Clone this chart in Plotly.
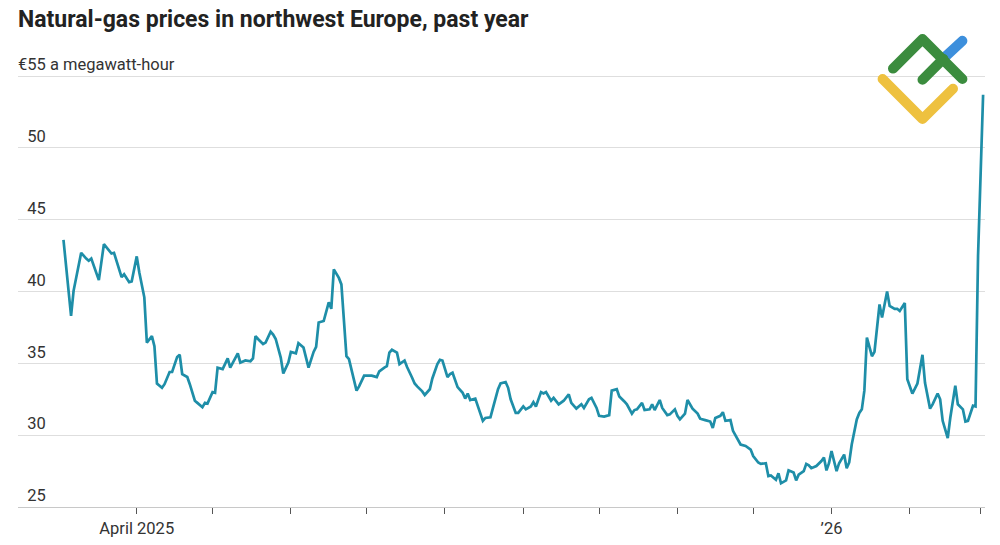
import base64
import plotly.graph_objects as go

# ---------------- data ----------------
dates = [
    "2025-03-03", "2025-03-06", "2025-03-07", "2025-03-10", "2025-03-12", "2025-03-13",
    "2025-03-14", "2025-03-16", "2025-03-17", "2025-03-19", "2025-03-21", "2025-03-22",
    "2025-03-23", "2025-03-25", "2025-03-26", "2025-03-27", "2025-03-29", "2025-03-30",
    "2025-04-01", "2025-04-02", "2025-04-04", "2025-04-05", "2025-04-07", "2025-04-08",
    "2025-04-09", "2025-04-11", "2025-04-12", "2025-04-14", "2025-04-15", "2025-04-17",
    "2025-04-18", "2025-04-19", "2025-04-21", "2025-04-22", "2025-04-24", "2025-04-25",
    "2025-04-27", "2025-04-28", "2025-04-29", "2025-05-01", "2025-05-02", "2025-05-03",
    "2025-05-05", "2025-05-07", "2025-05-08", "2025-05-11", "2025-05-12", "2025-05-14",
    "2025-05-16", "2025-05-17", "2025-05-18", "2025-05-19", "2025-05-21", "2025-05-22",
    "2025-05-24", "2025-05-25", "2025-05-26", "2025-05-28", "2025-05-29", "2025-05-31",
    "2025-06-01", "2025-06-03", "2025-06-04", "2025-06-06", "2025-06-07", "2025-06-08",
    "2025-06-10", "2025-06-11", "2025-06-12", "2025-06-14", "2025-06-16", "2025-06-17",
    "2025-06-18", "2025-06-20", "2025-06-21", "2025-06-23", "2025-06-24", "2025-06-26",
    "2025-06-27", "2025-06-28", "2025-06-30", "2025-07-02", "2025-07-03", "2025-07-05",
    "2025-07-06", "2025-07-08", "2025-07-09", "2025-07-10", "2025-07-11", "2025-07-13",
    "2025-07-14", "2025-07-16", "2025-07-17", "2025-07-19", "2025-07-20", "2025-07-21",
    "2025-07-23", "2025-07-24", "2025-07-26", "2025-07-27", "2025-07-29", "2025-07-30",
    "2025-07-31", "2025-08-02", "2025-08-03", "2025-08-04", "2025-08-06", "2025-08-08",
    "2025-08-09", "2025-08-10", "2025-08-11", "2025-08-13", "2025-08-14", "2025-08-16",
    "2025-08-17", "2025-08-19", "2025-08-20", "2025-08-22", "2025-08-23", "2025-08-25",
    "2025-08-26", "2025-08-27", "2025-08-29", "2025-08-30", "2025-09-01", "2025-09-02",
    "2025-09-04", "2025-09-05", "2025-09-06", "2025-09-08", "2025-09-09", "2025-09-10",
    "2025-09-12", "2025-09-13", "2025-09-15", "2025-09-17", "2025-09-19", "2025-09-20",
    "2025-09-22", "2025-09-24", "2025-09-25", "2025-09-27", "2025-09-28", "2025-09-30",
    "2025-10-01", "2025-10-03", "2025-10-05", "2025-10-06", "2025-10-08", "2025-10-09",
    "2025-10-11", "2025-10-12", "2025-10-14", "2025-10-15", "2025-10-16", "2025-10-18",
    "2025-10-19", "2025-10-21", "2025-10-22", "2025-10-23", "2025-10-25", "2025-10-26",
    "2025-10-28", "2025-10-29", "2025-10-31", "2025-11-01", "2025-11-02", "2025-11-04",
    "2025-11-05", "2025-11-07", "2025-11-09", "2025-11-10", "2025-11-12", "2025-11-14",
    "2025-11-15", "2025-11-16", "2025-11-18", "2025-11-19", "2025-11-20", "2025-11-22",
    "2025-11-23", "2025-11-25", "2025-11-26", "2025-11-28", "2025-11-30", "2025-12-01",
    "2025-12-03", "2025-12-04", "2025-12-06", "2025-12-07", "2025-12-08", "2025-12-10",
    "2025-12-11", "2025-12-12", "2025-12-14", "2025-12-15", "2025-12-17", "2025-12-18",
    "2025-12-19", "2025-12-21", "2025-12-22", "2025-12-23", "2025-12-24", "2025-12-26",
    "2025-12-28", "2025-12-29", "2025-12-30", "2025-12-31", "2026-01-01", "2026-01-03",
    "2026-01-04", "2026-01-06", "2026-01-07", "2026-01-08", "2026-01-09", "2026-01-11",
    "2026-01-12", "2026-01-13", "2026-01-14", "2026-01-15", "2026-01-17", "2026-01-18",
    "2026-01-20", "2026-01-21", "2026-01-23", "2026-01-24", "2026-01-26", "2026-01-27",
    "2026-01-28", "2026-01-30", "2026-01-31", "2026-02-02", "2026-02-03", "2026-02-04",
    "2026-02-06", "2026-02-07", "2026-02-09", "2026-02-10", "2026-02-12", "2026-02-13",
    "2026-02-14", "2026-02-16", "2026-02-17", "2026-02-19", "2026-02-20", "2026-02-22",
    "2026-02-23", "2026-02-24", "2026-02-26", "2026-02-27", "2026-02-28", "2026-03-02",
]

prices = [
    43.6, 38.3, 40.05, 42.7, 42.3, 42.15,
    42.3, 41.2, 40.8, 43.3, 42.85, 42.65,
    42.7, 41.55, 41.0, 41.2, 40.65, 40.7,
    42.45, 41.35, 39.6, 36.45, 36.9, 36.2,
    33.6, 33.3, 33.55, 34.4, 34.4, 35.45,
    35.6, 34.25, 34.05, 33.55, 32.4, 32.25,
    31.95, 32.25, 32.2, 33.0, 32.95, 34.7,
    34.6, 35.35, 34.7, 35.7, 35.05, 35.2,
    35.15, 35.35, 36.9, 36.7, 36.35, 36.45,
    37.2, 37.0, 36.7, 35.4, 34.3, 35.05,
    35.8, 35.7, 36.4, 36.1, 35.45, 34.7,
    35.8, 36.15, 37.85, 37.95, 39.25, 38.8,
    41.55, 40.95, 40.5, 35.5, 35.3, 33.9,
    33.1, 33.4, 34.15, 34.15, 34.15, 34.05,
    34.45, 34.7, 34.8, 35.75, 35.95, 35.75,
    34.95, 35.2, 34.75, 34.0, 33.6, 33.4,
    33.05, 32.8, 33.2, 33.95, 34.95, 35.25,
    35.2, 34.05, 34.25, 34.35, 33.35, 32.95,
    32.55, 32.9, 32.45, 32.55, 32.0, 31.0,
    31.2, 31.25, 31.9, 33.2, 33.6, 33.7,
    33.3, 32.5, 31.55, 31.55, 32.0, 31.8,
    32.0, 32.3, 32.0, 33.0, 32.9, 33.0,
    32.4, 32.6, 32.15, 32.4, 32.85, 32.25,
    31.85, 32.15, 31.9, 32.5, 32.6, 31.9,
    31.35, 31.3, 31.4, 33.1, 33.2, 32.7,
    32.35, 32.15, 31.5, 31.75, 31.8, 32.25,
    31.75, 31.8, 32.15, 31.75, 32.45, 31.9,
    31.4, 31.45, 31.8, 31.35, 31.1, 31.5,
    32.45, 31.85, 31.5, 31.15, 31.05, 30.95,
    30.5, 31.2, 31.35, 31.6, 31.0, 31.05,
    30.3, 29.7, 29.35, 29.25, 29.0, 28.55,
    28.1, 28.0, 28.05, 27.15, 27.2, 26.9,
    27.35, 26.65, 26.85, 27.55, 27.4, 26.85,
    27.25, 27.5, 28.0, 27.9, 27.7, 27.85,
    28.2, 28.45, 27.55, 28.05, 28.9, 27.5,
    28.05, 28.65, 27.7, 28.1, 29.35, 31.1,
    31.55, 31.8, 33.1, 36.8, 35.5, 35.8,
    39.1, 38.2, 40.0, 39.0, 38.8, 38.8,
    38.65, 39.2, 33.9, 32.9, 33.3, 33.6,
    35.6, 33.65, 31.85, 32.15, 32.9, 32.5,
    31.0, 29.8, 31.2, 33.45, 32.15, 31.8,
    30.95, 31.0, 32.05, 32.0, 42.5, 53.7,
]

y_tick_values = [25, 30, 35, 40, 45, 50, 55]
# figure space (U+2007) keeps the digits aligned with the "55" after the euro sign
y_tick_labels = ["\u200725", "\u200730", "\u200735", "\u200740", "\u200745", "\u200750",
                 "€55 a megawatt-hour"]

x_tick_values = [
    "2025-04-01", "2025-05-01", "2025-06-01", "2025-07-01", "2025-08-01", "2025-09-01",
    "2025-10-01", "2025-11-01", "2025-12-01", "2026-01-01", "2026-02-01", "2026-03-01",
]
x_tick_labels = ["April 2025", "", "", "", "", "", "", "", "", "’26", "", ""]

title_text = "Natural-gas prices in northwest Europe, past year"

# ---------------- styling ----------------
TICK_FONT = "Roboto, Arial, sans-serif"
TITLE_FONT = "Roboto, Arial, sans-serif"
LINE_COLOR = "#1e8ea8"

fig = go.Figure()
fig.add_trace(go.Scatter(
    x=dates, y=prices, mode="lines",
    line=dict(color=LINE_COLOR, width=2.7),
    hoverinfo="x+y", showlegend=False,
))

# watermark logo as an inline SVG image
logo_svg = (
    '<svg xmlns="http://www.w3.org/2000/svg" width="100" height="100" viewBox="0 0 100 100">'
    '<g fill="none" stroke-linecap="round" stroke-linejoin="round" stroke-width="10">'
    '<polyline points="10.6,49 50.5,89 81,58.75" stroke="#eec13f"/>'
    '<polyline points="72.4,27.5 90.4,10.8" stroke="#3d8fdc"/>'
    '<polyline points="21,38.6 50.5,9.1 90.4,49" stroke="#3b8c3e"/>'
    '<polyline points="50.5,49.7 71.3,28.9" stroke="#3b8c3e"/>'
    '</g></svg>'
)
logo_src = "data:image/svg+xml;base64," + base64.b64encode(logo_svg.encode()).decode()

W, H = 1000, 545
ML, MR, MT, MB = 18, 15, 74, 38
pw, ph = W - ML - MR, H - MT - MB

fig.add_layout_image(dict(
    source=logo_src, xref="paper", yref="paper",
    x=(872 - ML) / pw, y=(H - MB - 30) / ph,
    sizex=100 / pw, sizey=100 / ph,
    xanchor="left", yanchor="top", sizing="stretch", layer="above",
))

fig.update_layout(
    width=W, height=H,
    margin=dict(l=ML, r=MR, t=MT, b=MB, autoexpand=False),
    paper_bgcolor="white", plot_bgcolor="white",
    font=dict(family=TICK_FONT, size=16.5, color="#333333"),
    title=dict(
        text="<b>" + title_text + "</b>",
        x=ML / W, xref="container", xanchor="left",
        y=1 - 19 / H, yref="container", yanchor="middle",
        font=dict(family=TITLE_FONT, size=23, color="#222222"),
    ),
    xaxis=dict(
        type="date", automargin=False,
        range=["2025-02-13", "2026-03-02 18:00"],
        tickmode="array", tickvals=x_tick_values, ticktext=x_tick_labels,
        showgrid=False, zeroline=False,
        showline=True, linecolor="#c8c8c8", linewidth=1,
        ticks="outside", ticklen=6, tickwidth=1, tickcolor="#555555",
        tickfont=dict(family=TICK_FONT, size=16.5, color="#333333"),
        fixedrange=True,
    ),
    yaxis=dict(
        automargin=False,
        range=[25, 55.15],
        tickmode="array", tickvals=y_tick_values, ticktext=y_tick_labels,
        ticklabelposition="inside top", ticklabelstandoff=-3,
        ticklabeloverflow="allow",
        showgrid=True, gridcolor="#dedede", gridwidth=1,
        zeroline=False, showline=False, ticks="",
        tickfont=dict(family=TICK_FONT, size=16.5, color="#333333"),
        fixedrange=True,
    ),
)

fig.write_html(
    "out.html",
    config={"displayModeBar": False},
    post_script="document.body.style.margin='0';document.body.style.padding='0';",
)
